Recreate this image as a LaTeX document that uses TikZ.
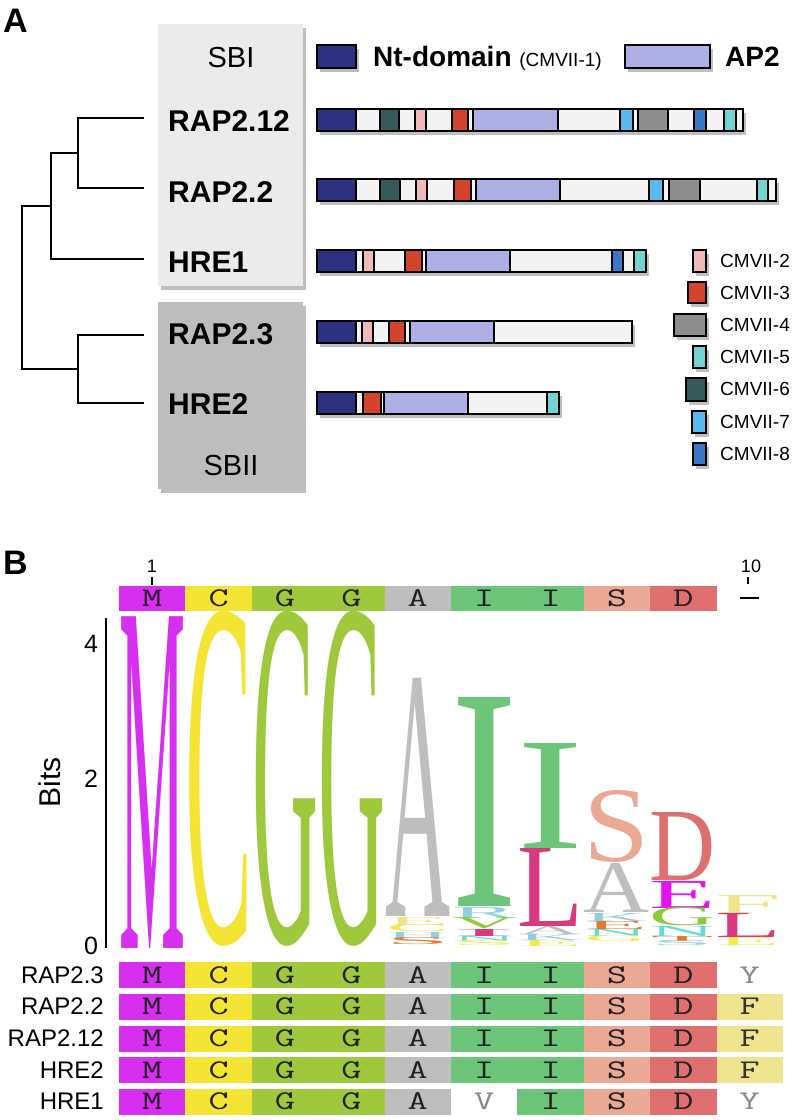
\documentclass[tikz,border=0pt]{standalone}
\usepackage{fontspec}
\usepackage{graphicx}
\setmainfont{Liberation Sans}
\newfontfamily\logofont{Liberation Serif}
\usetikzlibrary{shadows}
\definecolor{ntblue}{HTML}{2E3180}
\definecolor{aptwo}{HTML}{AEAFE4}
\definecolor{segwhite}{HTML}{F3F3F3}
\definecolor{cmtwo}{HTML}{F0B9B9}
\definecolor{cmthree}{HTML}{D4442C}
\definecolor{cmfour}{HTML}{8E8E8E}
\definecolor{cmfive}{HTML}{72D3D2}
\definecolor{cmsix}{HTML}{365A5A}
\definecolor{cmseven}{HTML}{5AB8F0}
\definecolor{cmeight}{HTML}{3A78C6}
\definecolor{sbone}{HTML}{EBEBEB}
\definecolor{sbtwo}{HTML}{BDBDBD}
\definecolor{aaM}{HTML}{D62FF0}
\definecolor{aaC}{HTML}{F4E433}
\definecolor{aaG}{HTML}{9FC83D}
\definecolor{aaA}{HTML}{BEBEBE}
\definecolor{aaI}{HTML}{6DC57A}
\definecolor{aaS}{HTML}{EBA995}
\definecolor{aaD}{HTML}{E07070}
\definecolor{aaF}{HTML}{EEE48E}
\definecolor{aaL}{HTML}{D93A7F}
\definecolor{aaE}{HTML}{E414F0}
\definecolor{aaR}{HTML}{8FD0E2}
\definecolor{aaV}{HTML}{8CCB3C}
\definecolor{aaN}{HTML}{5EDDDD}
\definecolor{aaO}{HTML}{E8782A}
\definecolor{aaY}{HTML}{F2EB50}
\definecolor{seqtext}{HTML}{222222}
\definecolor{seqgray}{HTML}{8A8A8A}
\newcounter{lgc}
\newcommand\lgl[6]{\stepcounter{lgc}\node[inner sep=0pt, outer sep=0pt, anchor=south west, text=#5] (lg\thelgc) at (#1,#4) {\resizebox{\dimexpr#2pt-#1pt\relax}{\dimexpr#4pt-#3pt\relax}{\logofont #6}};}
\newcommand\sq[1]{\scalebox{1.45}[1]{#1}}
\newcommand\protbar[3]{%
  \path[barbase] (317,{#1-11}) rectangle (#2,{#1+11});
  \foreach \sa/\sb/\sc in {#3}{\path[segbox, fill=\sc] (\sa,{#1-11}) rectangle (\sb,{#1+11});}
  \draw[segline] (317,{#1-11}) rectangle (#2,{#1+11});
}
% cell background: column index, y center, half height, colour
\newcommand\cellbg[4]{\fill[#4] ({119+66.4*(#1-1)},{#2-#3}) rectangle ({119+66.4*#1},{#2+#3});}
\begin{document}
\begin{tikzpicture}[x=1pt,y=-1pt,
  shad/.style={drop shadow={shadow xshift=3pt, shadow yshift=-4pt, fill=black, opacity=0.25}},
  barbase/.style={fill=segwhite, shad},
  segbox/.style={draw=black, line width=1.1pt},
  segline/.style={draw=black, line width=1.3pt},
  sbbox/.style={inner sep=0pt, minimum width=145pt, shad},
  leaf/.style={anchor=west, inner sep=0pt, font=\fontsize{30}{34}\selectfont\bfseries},
  treeline/.style={line width=2pt},
  cmlab/.style={anchor=west, inner sep=0pt, font=\fontsize{19}{22}\selectfont},
  panel/.style={anchor=base west, inner sep=0pt, font=\fontsize{34}{38}\selectfont\bfseries},
  cell/.style={inner sep=0pt, font=\ttfamily\fontsize{27}{30}\selectfont, text=seqtext},
  rowlab/.style={anchor=east, inner sep=0pt, font=\fontsize{24}{28}\selectfont},
  axlab/.style={inner sep=0pt, font=\fontsize{25}{28}\selectfont}
]
\useasboundingbox (0,0) rectangle (797,1120);

% ---------- Panel A ----------
\node[panel] (pA) at (3,32) {A};
\node[sbbox, fill=sbone, minimum height=262pt] (sbi) at (230.5,155) {};
\node[sbbox, fill=sbtwo, minimum height=187pt] (sbii) at (230.5,395.5) {};
\node[inner sep=0pt, font=\fontsize{29}{32}\selectfont] (sbilab) at (231,58) {SBI};
\node[inner sep=0pt, font=\fontsize{29}{32}\selectfont] (sbiilab) at (231,466) {SBII};

\node[leaf] (lab1) at (168,121) {RAP2.12};
\node[leaf] (lab2) at (168,192) {RAP2.2};
\node[leaf] (lab3) at (168,262) {HRE1};
\node[leaf] (lab4) at (168,334) {RAP2.3};
\node[leaf] (lab5) at (168,404) {HRE2};

\coordinate (l1) at (144,118);
\coordinate (l2) at (144,188);
\coordinate (l3) at (144,259);
\coordinate (l4) at (144,335);
\coordinate (l5) at (144,403);
\coordinate (n12) at (78,153);
\coordinate (n123) at (51,206);
\coordinate (n45) at (78,369);
\coordinate (root) at (22,287);
\draw[treeline] (l1) -| (n12) |- (l2);
\draw[treeline] (n12) -| (n123) |- (l3);
\draw[treeline] (l4) -| (n45) |- (l5);
\draw[treeline] (n123) -| (root) |- (n45);

% legend top
\path[segbox, shad, fill=ntblue] (317,45) rectangle (356,68);
\node[anchor=base west, inner sep=0pt] (ntlab) at (373,66) {\fontsize{28}{32}\selectfont\bfseries Nt-domain \fontsize{19}{22}\selectfont\mdseries (CMVII-1)};
\path[segbox, shad, fill=aptwo] (625,45) rectangle (710,68);
\node[anchor=base west, inner sep=0pt, font=\fontsize{28}{32}\selectfont\bfseries] (aplab) at (725,66) {AP2};

% bars
\protbar{120}{743}{317/356/ntblue, 380/399/cmsix, 415/426/cmtwo, 452/468/cmthree, 473/558/aptwo, 620/633/cmseven, 638/668/cmfour, 694/706/cmeight, 724/736/cmfive}
\protbar{190}{776}{317/356/ntblue, 380/400/cmsix, 416/427/cmtwo, 454/471/cmthree, 476/560/aptwo, 649/663/cmseven, 669/700/cmfour, 757/768/cmfive}
\protbar{261}{646}{317/356/ntblue, 363/374/cmtwo, 405/422/cmthree, 426/510/aptwo, 612/623/cmeight, 634/646/cmfive}
\protbar{332}{632}{317/356/ntblue, 362/373/cmtwo, 389/405/cmthree, 410/494/aptwo}
\protbar{403}{559}{317/356/ntblue, 363/381/cmthree, 384/468/aptwo, 547/559/cmfive}

% CMVII legend
\path[segbox, shad, fill=cmtwo] (693,250) rectangle (706,272);
\path[segbox, shad, fill=cmthree] (688,282) rectangle (706,303);
\path[segbox, shad, fill=cmfour] (674,314) rectangle (706,336);
\path[segbox, shad, fill=cmfive] (693,346) rectangle (706,368);
\path[segbox, shad, fill=cmsix] (686,378) rectangle (706,401);
\path[segbox, shad, fill=cmseven] (692,411) rectangle (706,433);
\path[segbox, shad, fill=cmeight] (693,443) rectangle (706,465);
\node[cmlab] (cm2) at (720,261) {CMVII-2};
\node[cmlab] (cm3) at (720,293) {CMVII-3};
\node[cmlab] (cm4) at (720,325) {CMVII-4};
\node[cmlab] (cm5) at (720,357) {CMVII-5};
\node[cmlab] (cm6) at (720,389) {CMVII-6};
\node[cmlab] (cm7) at (720,422) {CMVII-7};
\node[cmlab] (cm8) at (720,454) {CMVII-8};

% ---------- Panel B ----------
\node[panel] (pB) at (3,574) {B};
\node[inner sep=0pt, font=\fontsize{18}{20}\selectfont] (pos1) at (152,566) {1};
\node[inner sep=0pt, font=\fontsize{18}{20}\selectfont] (pos10) at (751,566) {10};
\draw[line width=1.5pt] (152,577) -- (152,585);
\draw[line width=1.5pt] (748,577) -- (748,584);
\draw[line width=2pt] (740,598) -- (759,598);

\foreach \i/\c/\t in {1/aaM/M, 2/aaC/C, 3/aaG/G, 4/aaG/G, 5/aaA/A, 6/aaI/I, 7/aaI/I, 8/aaS/S, 9/aaD/D}{
  \cellbg{\i}{598.5}{12.5}{\c}
  \node[cell] (t\i) at ({119+66.4*(\i-0.5)},598.5) {\sq{\t}};
}

% axis
\coordinate (axt) at (106,618);
\coordinate (axb) at (106,948);
\draw[line width=1.8pt] (axt) -- (axb);
\node[axlab] (ax4) at (91,644) {4};
\node[axlab] (ax2) at (91,779) {2};
\node[axlab] (ax0) at (91,946) {0};
\node[inner sep=0pt, rotate=90, font=\fontsize{30}{34}\selectfont] (bits) at (50,782) {Bits};

% logo
\lgl{119}{185}{617}{948}{aaM}{M}
\lgl{185}{252}{617}{946}{aaC}{C}
\lgl{252}{318}{617}{946}{aaG}{G}
\lgl{318}{385}{617}{946}{aaG}{G}
\lgl{385}{450}{678}{916}{aaA}{A}
\lgl{386}{449}{917}{925}{aaF}{E}
\lgl{386}{449}{925}{932}{aaY}{C}
\lgl{386}{449}{932}{938}{aaR}{H}
\lgl{386}{449}{938}{945}{aaO}{S}
\lgl{451}{517}{697}{906}{aaI}{I}
\lgl{452}{516}{907}{918}{aaR}{R}
\lgl{452}{516}{918}{929}{aaV}{V}
\lgl{452}{516}{929}{936}{aaL}{I}
\lgl{452}{516}{936}{941}{aaN}{N}
\lgl{452}{516}{941}{946}{aaY}{S}
\lgl{517}{583}{743}{848}{aaI}{I}
\lgl{517}{583}{848}{926}{aaL}{L}
\lgl{518}{582}{926}{934}{aaA}{A}
\lgl{518}{582}{934}{940}{aaR}{K}
\lgl{518}{582}{940}{946}{aaY}{E}
\lgl{583}{649}{792}{863}{aaS}{S}
\lgl{583}{649}{863}{912}{aaA}{A}
\lgl{585}{647}{913}{921}{aaR}{K}
\lgl{585}{647}{921}{929}{aaO}{E}
\lgl{585}{647}{929}{936}{aaN}{N}
\lgl{585}{647}{936}{942}{aaY}{G}
\lgl{649}{715}{813}{881}{aaD}{D}
\lgl{649}{715}{881}{908}{aaE}{E}
\lgl{649}{715}{908}{926}{aaV}{G}
\lgl{649}{715}{926}{936}{aaN}{N}
\lgl{651}{713}{936}{941}{aaO}{T}
\lgl{651}{713}{941}{946}{aaR}{S}
\lgl{715}{781}{895}{913}{aaF}{F}
\lgl{715}{781}{913}{937}{aaL}{L}
\lgl{717}{779}{937}{945}{aaY}{E}

% alignment
\foreach \r/\name/\y in {1/RAP2.3/975, 2/RAP2.2/1006.5, 3/RAP2.12/1038.5, 4/HRE2/1070, 5/HRE1/1101.5}
  \node[rowlab] (rl\r) at (104,\y) {\name};
\foreach \r/\y in {1/975, 2/1006.5, 3/1038.5, 4/1070, 5/1101.5}{
  \foreach \i/\c/\t in {1/aaM/M, 2/aaC/C, 3/aaG/G, 4/aaG/G, 5/aaA/A, 7/aaI/I, 8/aaS/S, 9/aaD/D}{
    \cellbg{\i}{\y}{13}{\c}
    \node[cell] (a\r c\i) at ({119+66.4*(\i-0.5)},\y) {\sq{\t}};
  }
}
\foreach \r/\y in {1/975, 2/1006.5, 3/1038.5, 4/1070}{
  \cellbg{6}{\y}{13}{aaI}
  \node[cell] (a\r c6) at ({119+66.4*5.5},\y) {\sq{I}};
}
\node[cell, text=seqgray] (a5c6) at ({119+66.4*5.5},1101.5) {\sq{V}};
\node[cell, text=seqgray] (a1c10) at ({119+66.4*9.5},975) {\sq{Y}};
\node[cell, text=seqgray] (a5c10) at ({119+66.4*9.5},1101.5) {\sq{Y}};
\foreach \r/\y in {2/1006.5, 3/1038.5, 4/1070}{
  \cellbg{10}{\y}{13}{aaF}
  \node[cell, text=black!80] (a\r c10) at ({119+66.4*9.5},\y) {\sq{F}};
}
\end{tikzpicture}
\end{document}
